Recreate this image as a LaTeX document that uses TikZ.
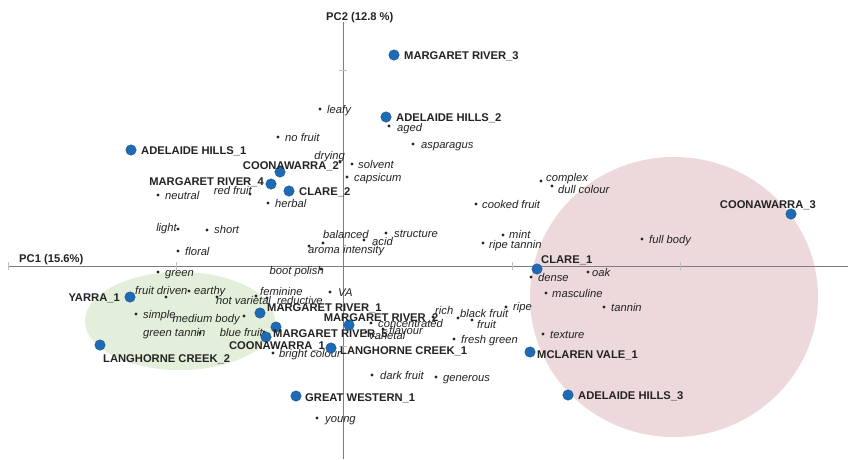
\documentclass[tikz,border=0pt]{standalone}
\usepackage{fontspec}
\setmainfont{Liberation Sans}
\definecolor{sampblue}{RGB}{31,106,180}
\definecolor{greenfill}{RGB}{227,239,218}
\definecolor{pinkfill}{RGB}{237,217,220}
\definecolor{axisgray}{RGB}{125,125,125}
\definecolor{txt}{RGB}{35,35,35}
\begin{document}
\begin{tikzpicture}[x=1pt,y=-1pt,
 samp/.style={circle,fill=sampblue,draw=sampblue!80!black,line width=0.4pt,minimum size=10.5pt,inner sep=0},
 attr/.style={circle,fill=black!85,minimum size=3.4pt,inner sep=0},
 slab/.style={font=\fontsize{11.2}{13}\selectfont\bfseries,text=txt,inner sep=0,text height=8pt,text depth=0pt},
 alab/.style={font=\fontsize{11.2}{13}\selectfont\itshape,text=txt,inner sep=0,text height=8pt,text depth=0pt},
 ticklne/.style={draw=black!25,line width=0.5pt}]
\useasboundingbox (0,0) rectangle (848,459);
\fill[white] (0,0) rectangle (848,459);
% groups
\fill[greenfill] (180,321) ellipse [x radius=95pt, y radius=49pt];
\fill[pinkfill] (674,297) ellipse [x radius=144pt, y radius=140pt];
% axes
\coordinate (xl) at (8,266); \coordinate (xr) at (848,266);
\coordinate (yt) at (343,22); \coordinate (yb) at (343,459);
\draw[axisgray,line width=0.8pt] (xl) -- (xr);
\draw[axisgray,line width=0.8pt] (yt) -- (yb);
\foreach \t in {8,176,512,680} \draw[ticklne] (\t,262) -- (\t,270);
\foreach \t in {70,346} \draw[ticklne] (339,\t) -- (347,\t);
\node[slab,anchor=west] (pc1) at (19,258) {PC1 (15.6\%)};
\node[slab,anchor=west] (pc2) at (326,16) {PC2 (12.8 \%)};
% attributes
\foreach \n/\dx/\dy/\an/\lx/\ly/\t in {
 a1/320/109/west/327/109/leafy,
 a2/389/126/west/397/127/aged,
 a3/413/144/west/421/144/asparagus,
 a4/278/137/west/285/137/no fruit,
 a5/340/162/east/345/155/drying,
 a6/352/164/west/358/164/solvent,
 a7/347/177/west/354/177/capsicum,
 a8/250/194/east/252/190/red fruit,
 a9/158/195/west/165/195/neutral,
 a10/268/203/west/275/203/herbal,
 a11/178/229/east/177/227/light,
 a12/207/230/west/214/229/short,
 a13/178/251/west/185/251/floral,
 a14/323/243/west/323/234/balanced,
 a15/364/240/west/372/241/acid,
 a16/386/233/west/394/233/structure,
 a17/309/246/west/308/249/aroma intensity,
 a18/321/269/east/324/270/boot polish,
 a19/330/292/west/338/292/VA,
 a20/256/296/west/260/291/feminine,
 a21/217/297/west/216/300/not varietal,
 a22/267/298/west/277/300/reductive,
 a23/158/272/west/165/272/green,
 a24/166/297/west/135/290/fruit driven,
 a25/189/291/west/194/290/earthy,
 a26/136/314/west/143/314/simple,
 a27/244/316/east/240/318/medium body,
 a28/200/333/west/143/332/green tannin,
 a29/264/332/east/263/332/blue fruit,
 a30/273/353/west/279/353/bright colour,
 a31/371/323/west/378/323/concentrated,
 a32/383/329/west/389/330/flavour,
 a33/366/332/west/369/335/varietal,
 a34/433/317/west/435/310/rich,
 a35/458/318/west/460/313/black fruit,
 a36/472/320/west/477/324/fruit,
 a37/506/307/west/513/306/ripe,
 a38/454/339/west/461/339/fresh green,
 a39/372/375/west/380/375/dark fruit,
 a40/436/377/west/443/377/generous,
 a41/317/418/west/325/418/young,
 a42/541/181/west/546/177/complex,
 a43/552/186/west/558/189/dull colour,
 a44/476/204/west/482/204/cooked fruit,
 a45/503/235/west/509/234/mint,
 a46/483/243/west/489/244/ripe tannin,
 a47/642/239/west/649/239/full body,
 a48/531/277/west/538/277/dense,
 a49/588/272/west/592/272/oak,
 a50/546/293/west/552/293/masculine,
 a51/604/307/west/611/307/tannin,
 a52/543/334/west/550/334/texture}
 {\node[attr] (\n) at (\dx,\dy) {};
  \node[alab,anchor=\an] (\n l) at (\lx,\ly) {\t};}
% samples
\foreach \n/\dx/\dy/\an/\lx/\ly/\t in {
 s1/394/55/west/404/55/MARGARET RIVER\_3,
 s2/386/117/west/396/117/ADELAIDE HILLS\_2,
 s3/131/150/west/141/150/ADELAIDE HILLS\_1,
 s4/280/172/east/339/165/COONAWARRA\_2,
 s5/271/184/east/264/181/MARGARET RIVER\_4,
 s6/289/191/west/299/191/CLARE\_2,
 s7/130/297/east/120/297/YARRA\_1,
 s8/100/345/west/103/358/LANGHORNE CREEK\_2,
 s9/260/313/west/267/307/MARGARET RIVER\_1,
 s10/276/327/west/273/333/MARGARET RIVER\_5,
 s11/266/337/center/277/345/COONAWARRA\_1,
 s12/349/325/center/381/317/MARGARET RIVER\_2,
 s13/331/348/west/340/350/LANGHORNE CREEK\_1,
 s14/296/396/west/305/397/GREAT WESTERN\_1,
 s15/537/269/west/541/259/CLARE\_1,
 s16/530/352/west/537/354/MCLAREN VALE\_1,
 s17/568/395/west/578/395/ADELAIDE HILLS\_3,
 s18/791/214/east/816/204/COONAWARRA\_3}
 {\node[samp] (\n) at (\dx,\dy) {};
  \node[slab,anchor=\an] (\n l) at (\lx,\ly) {\t};}
\end{tikzpicture}
\end{document}
